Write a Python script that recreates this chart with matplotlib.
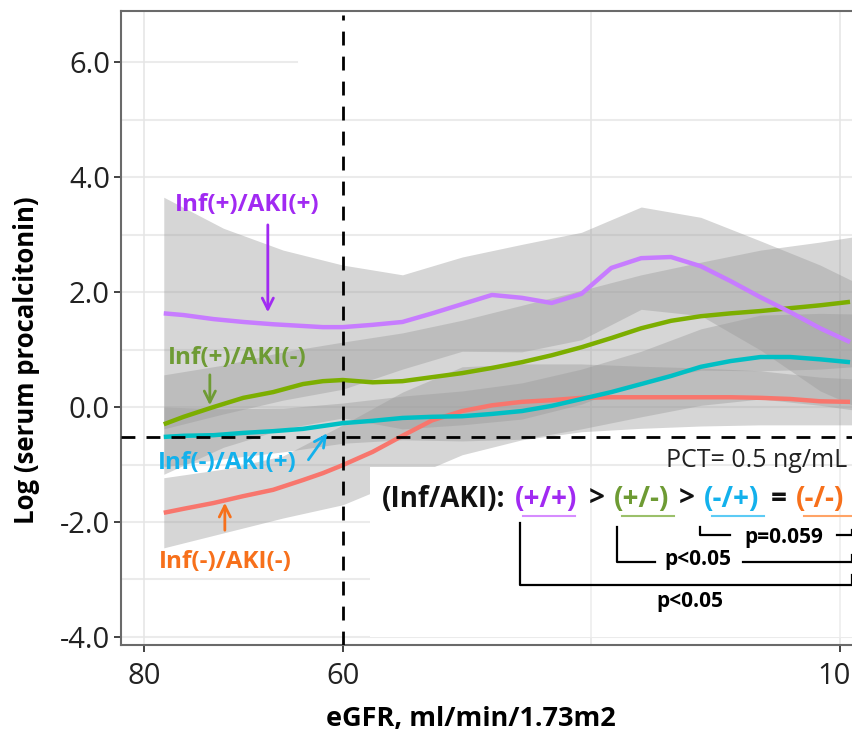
import numpy as np
import matplotlib
matplotlib.use("Agg")
import matplotlib.pyplot as plt
from matplotlib.transforms import ScaledTranslation

plt.rcParams['font.family'] = ['Open Sans', 'DejaVu Sans']

# smoothed curves, eGFR (x) vs log serum procalcitonin (y)
egfr = [78, 76, 73, 70, 67, 64, 62, 60, 57, 54, 51, 48, 45, 42, 39, 36, 33, 30, 27, 24, 21, 18, 15, 12, 9]
inf_pos_aki_pos = [1.63, 1.60, 1.53, 1.48, 1.44, 1.41, 1.39, 1.39, 1.43, 1.48, 1.63, 1.79, 1.95, 1.90, 1.81,
                   1.97, 2.42, 2.59, 2.61, 2.45, 2.19, 1.91, 1.65, 1.37, 1.13]
inf_pos_aki_neg = [-0.30, -0.17, 0.00, 0.16, 0.26, 0.40, 0.45, 0.47, 0.43, 0.45, 0.52, 0.59, 0.68, 0.78, 0.90,
                   1.04, 1.20, 1.37, 1.50, 1.58, 1.63, 1.67, 1.72, 1.77, 1.83]
inf_neg_aki_pos = [-0.52, -0.50, -0.49, -0.45, -0.42, -0.38, -0.33, -0.28, -0.24, -0.19, -0.17, -0.16, -0.12, -0.07, 0.02,
                   0.14, 0.26, 0.40, 0.54, 0.70, 0.80, 0.87, 0.87, 0.83, 0.78]
inf_neg_aki_neg = [-1.84, -1.77, -1.67, -1.55, -1.44, -1.27, -1.15, -1.01, -0.78, -0.50, -0.23, -0.07, 0.03, 0.09, 0.12,
                   0.16, 0.17, 0.17, 0.17, 0.17, 0.17, 0.16, 0.14, 0.10, 0.09]

# confidence bands
band_egfr = [78, 72, 66, 60, 54, 48, 42, 36, 30, 24, 18, 12, 8.7]
pp_lo = [-0.38, -0.12, 0.12, 0.31, 0.66, 0.97, 0.96, 1.17, 1.70, 1.59, 0.99, 0.28, 0.03]
pp_hi = [3.65, 3.11, 2.73, 2.47, 2.30, 2.61, 2.83, 3.04, 3.48, 3.30, 2.89, 2.47, 2.19]
pn_lo = [-1.17, -0.70, -0.38, -0.19, -0.38, -0.31, -0.21, 0.05, 0.45, 0.64, 0.63, 0.66, 0.70]
pn_hi = [0.56, 0.73, 0.96, 1.13, 1.29, 1.51, 1.77, 2.03, 2.30, 2.52, 2.73, 2.87, 2.96]
np_lo = [-1.04, -0.90, -0.78, -0.63, -0.57, -0.59, -0.56, -0.38, -0.17, 0.03, 0.14, 0.03, -0.05]
np_hi = [0.00, -0.03, -0.02, 0.07, 0.19, 0.28, 0.42, 0.66, 0.97, 1.36, 1.60, 1.63, 1.62]
nn_lo = [-2.45, -2.19, -1.93, -1.70, -1.27, -0.83, -0.57, -0.43, -0.37, -0.33, -0.31, -0.31, -0.31]
nn_hi = [-1.23, -1.08, -0.85, -0.31, 0.26, 0.70, 0.75, 0.75, 0.71, 0.68, 0.63, 0.52, 0.49]

y_ticks = [-4, -2, 0, 2, 4, 6]
x_ticks = [80, 60, 10]
pct_cut = -0.52
egfr_cut = 60


def px(x, y):
    # picture pixel -> data coords (used for annotation placement only)
    return 60 - (x - 343) / 9.95, (407 - y) / 57.5


fig = plt.figure(figsize=(8.53, 7.38), dpi=100)
ax = fig.add_axes([121 / 853, 1 - 645 / 738, 1 - 121 / 853, (645 - 11) / 738])
ax.set_xlim(82.3, 8.7)
ax.set_ylim(-4.14, 6.89)

# grid
for g in np.arange(-4, 6, 1.0):
    ax.axhline(g, color='#ebebeb', lw=1.5, zorder=0)
ax.plot([82.3, 64.6], [6, 6], color='#ebebeb', lw=1.5, zorder=0)
for g in [80, 35, 10]:
    ax.axvline(g, color='#e6e6e6', lw=1.2, zorder=0)

groups = [
    (inf_neg_aki_neg, nn_lo, nn_hi, '#F8766D'),
    (inf_pos_aki_neg, pn_lo, pn_hi, '#7CAE00'),
    (inf_neg_aki_pos, np_lo, np_hi, '#00BFC4'),
    (inf_pos_aki_pos, pp_lo, pp_hi, '#C77CFF'),
]
for yv, lo, hi, c in groups:
    ax.fill_between(band_egfr, lo, hi, color='#999999', alpha=0.4, lw=0, zorder=1)
    ax.plot(egfr, yv, color=c, lw=3.2, zorder=2, solid_capstyle='butt', solid_joinstyle='round')

# white box behind the comparison text
x0, y0 = px(370, 467)
ax.add_patch(plt.Rectangle((x0, -4.0), 8.7 - x0, y0 + 4.0, facecolor='white', edgecolor='none', zorder=3))
for g in [35, 10]:
    ax.plot([g, g], [-4.0, y0], color='#ededed', lw=1.2, zorder=3.5)

ax.axhline(pct_cut, color='black', lw=2, ls=(0, (5, 4)), zorder=4)
ax.plot([egfr_cut, egfr_cut], [-4.14, 6.82], color='black', lw=2, ls=(0, (5, 4)), zorder=4)

for s in ['left', 'bottom', 'top']:
    ax.spines[s].set_color('#6a6a6a')
    ax.spines[s].set_linewidth(1.5)
ax.spines['right'].set_visible(False)
ax.set_yticks(y_ticks)
ax.set_yticklabels(['%.1f' % t for t in y_ticks])
ax.set_xticks(x_ticks)
ax.set_xticklabels([str(t) for t in x_ticks])
ax.tick_params(axis='both', labelsize=21, colors='#222222', length=5, width=1.2)
ax.tick_params(axis='y', pad=3)
ax.tick_params(axis='x', pad=7)
last = ax.get_xticklabels()[-1]
last.set_transform(last.get_transform() + ScaledTranslation(-6 / 100, 0, fig.dpi_scale_trans))

fig.text(27 / 853, 1 - 360 / 738, 'Log (serum procalcitonin)', rotation=90, fontsize=18.5,
         fontweight='bold', ha='center', va='center')
fig.text(471 / 853, 1 - 719 / 738, 'eGFR, ml/min/1.73m2', fontsize=19.5, fontweight='bold',
         ha='center', va='center')

# group labels with arrows
labels = [
    ('Inf(+)/AKI(+)', '#A12AF2', (247, 205), (268, 222), (268, 315)),
    ('Inf(+)/AKI(-)', '#6E9B34', (237, 358), (210, 372), (210, 408)),
    ('Inf(-)/AKI(+)', '#13B1EC', (227, 463), (307, 462), (329, 431)),
    ('Inf(-)/AKI(-)', '#F7701B', (225, 562), (225, 533), (225, 500)),
]
for txt, c, tpos, a0, a1 in labels:
    ax.text(*px(*tpos), txt, color=c, fontsize=17.5, fontweight='bold', ha='center', va='center', zorder=6)
    ax.annotate('', xy=px(*a1), xytext=px(*a0),
                arrowprops=dict(arrowstyle='->', color=c, lw=2, mutation_scale=20), zorder=6)

ax.text(*px(848, 460), 'PCT= 0.5 ng/mL', fontsize=18, ha='right', va='center', color='#222222', zorder=6)

parts = [
    ('(Inf/AKI):', 382, '#111111', None),
    ('(+/+)', 515, '#A12AF2', '#D68CFF'),
    ('>', 589, '#111111', None),
    ('(+/-)', 614, '#6E9B34', '#9BC06A'),
    ('>', 679, '#111111', None),
    ('(-/+)', 704, '#13B1EC', '#5CCBF5'),
    ('=', 771, '#111111', None),
    ('(-/-)', 796, '#F7701B', '#FFA366'),
]
for txt, xl, c, uc in parts:
    ax.text(*px(xl, 499), txt, fontsize=20, fontweight='bold', color=c, ha='left', va='center', zorder=6)
    if uc is not None:
        ax.plot(*zip(px(xl + 8, 516), px(xl + 60, 516)), color=uc, lw=1.5, zorder=6)

# significance brackets
brackets = [
    [(520, 523), (520, 585), (852, 585), (852, 575)],
    [(617, 527), (617, 562), (655, 562)],
    [(743, 562), (852, 562), (852, 555)],
    [(700, 527), (700, 535), (730, 535)],
    [(837, 535), (852, 535), (852, 530)],
]
for br in brackets:
    pts = [px(*p) for p in br]
    ax.plot([p[0] for p in pts], [p[1] for p in pts], color='black', lw=1.6, zorder=6, clip_on=False)
ax.text(*px(690, 602), 'p<0.05', fontsize=15, fontweight='bold', ha='center', va='center', zorder=6)
ax.text(*px(698, 560), 'p<0.05', fontsize=15, fontweight='bold', ha='center', va='center', zorder=6)
ax.text(*px(784, 538), 'p=0.059', fontsize=15, fontweight='bold', ha='center', va='center', zorder=6)

fig.savefig('out.png', dpi=100)
